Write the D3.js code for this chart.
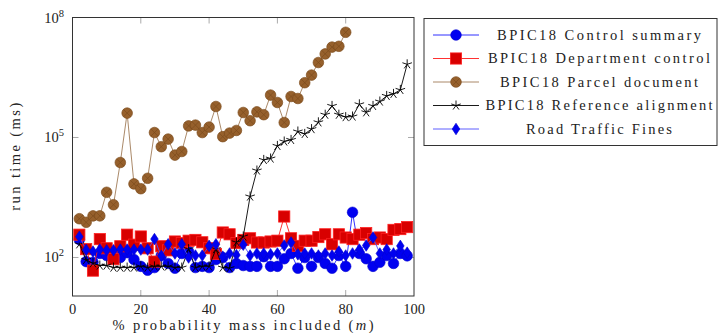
<!DOCTYPE html>
<html>
<head>
<meta charset="utf-8">
<script src="https://cdn.jsdelivr.net/npm/d3@7"></script>
<style>
  body { margin: 0; background: #fff; }
</style>
</head>
<body>
<div id="chart"></div>
<script>
// x values: % probability mass included
let mass = d3.range(2, 100, 2);          // 2..98
let massParcel = d3.range(2, 82, 2);     // 2..80

// run times in ms
let controlSummary = [282, 79, 76, 126, 112, 132, 100, 132, 89, 60, 48, 56, 112, 71, 54, 126, 141, 56, 60, 56,
    89, 100, 56, 71, 63, 60, 60, 105, 60, 60, 93, 126, 54, 100, 60, 100, 71, 54, 112, 60,
    1349, 126, 93, 60, 76, 112, 71, 126, 110];
let departmentControl = [372, 162, 47, 288, 170, 91, 191, 372, 209, 335, 170, 79, 191, 151, 251, 229, 263, 275, 240, 170,
    123, 422, 380, 229, 275, 302, 237, 237, 251, 263, 1059, 302, 195, 263, 263, 324, 380, 214, 380, 316,
    288, 372, 407, 288, 316, 288, 490, 513, 575];
let parcelDocument = [933, 759, 1096, 1100, 4266, 2089, 23700, 407000, 6918, 5248, 9550, 133000, 58900, 91200, 36300, 44700,
    195000, 204000, 133000, 182000, 596000, 105000, 129000, 150000, 422000, 263000, 437000, 372000, 1148000, 750000,
    237000, 1059000, 944000, 2344000, 3631000, 7500000, 12300000, 18200000, 19050000, 42660000];
let referenceAlignment = [214, 87, 72, 63, 63, 56, 56, 56, 56, 60, 56, 60, 60, 60, 56, 56, 162, 56, 60, 60,
    162, 56, 54, 240, 335, 3350, 14960, 27540, 29850, 61660, 79430, 87100, 141250, 123000, 162200, 239900, 371500, 616600,
    371500, 323600, 335000, 676000, 426600, 616600, 794300, 1096000, 1230000, 1549000, 6761000];
let roadTrafficFines = [331, 155, 141, 158, 151, 151, 158, 158, 158, 158, 158, 288, 110, 214, 126, 214, 100, 112, 112, 195,
    214, 105, 126, 115, 209, 112, 126, 126, 120, 126, 200, 237, 120, 126, 126, 112, 126, 112, 141, 112,
    126, 158, 200, 316, 126, 158, 126, 195, 132];

let xTicks = [0, 20, 40, 60, 80, 100];
let yTicks = [1e2, 1e5, 1e8];

let seriesNames = ['BPIC18 Control summary', 'BPIC18 Department control', 'BPIC18 Parcel document',
    'BPIC18 Reference alignment', 'Road Traffic Fines'];

let svgWidth = 719, svgHeight = 333;
let plot = { left: 72.5, right: 414, top: 17.5, bottom: 296 };

let svg = d3.select('#chart').append('svg')
    .attr('width', svgWidth)
    .attr('height', svgHeight)
    .attr('font-family', "'Liberation Serif', 'Times New Roman', 'DejaVu Serif', serif");

let x = d3.scaleLinear().domain([0, 100]).range([plot.left, plot.right]);
let y = d3.scaleLog().domain([10.9, 1e8]).range([plot.bottom, plot.top]);

// styles per series
let styles = [
    { line: '#1a1aff', fill: '#0000f0', stroke: '#0000d0', mark: 'circle', textLen: 204 },
    { line: '#ff1a1a', fill: '#d80000', stroke: '#ff2020', mark: 'square', textLen: 222 },
    { line: '#a07c58', fill: '#96602c', stroke: '#7d4c1c', mark: 'otimes', textLen: 198 },
    { line: '#000', fill: 'none', stroke: '#000', mark: 'star', textLen: 227 },
    { line: '#4d4dff', fill: '#0000f0', stroke: '#0000d0', mark: 'diamond', textLen: 146 }
];

let allSeries = [
    mass.map((m, i) => [m, controlSummary[i]]),
    mass.map((m, i) => [m, departmentControl[i]]),
    massParcel.map((m, i) => [m, parcelDocument[i]]),
    mass.map((m, i) => [m, referenceAlignment[i]]),
    mass.map((m, i) => [m, roadTrafficFines[i]])
];

// ticks (gray, inside, all four sides)
let tickG = svg.append('g').attr('stroke', '#aaa').attr('stroke-width', 1);
xTicks.slice(1, -1).forEach(t => {
    tickG.append('line').attr('x1', x(t)).attr('x2', x(t)).attr('y1', plot.bottom).attr('y2', plot.bottom - 6);
    tickG.append('line').attr('x1', x(t)).attr('x2', x(t)).attr('y1', plot.top).attr('y2', plot.top + 6);
});
yTicks.forEach(t => {
    tickG.append('line').attr('x1', plot.left).attr('x2', plot.left + 6).attr('y1', y(t)).attr('y2', y(t));
    tickG.append('line').attr('x1', plot.right).attr('x2', plot.right - 6).attr('y1', y(t)).attr('y2', y(t));
});

// marker drawing
function drawMark(g, type, s) {
    if (type === 'circle') {
        g.append('circle').attr('r', 5.3).attr('fill', s.fill).attr('stroke', s.stroke).attr('stroke-width', 0.6);
    } else if (type === 'square') {
        g.append('rect').attr('x', -5.6).attr('y', -5.6).attr('width', 11.2).attr('height', 11.2)
            .attr('fill', s.fill).attr('stroke', s.stroke).attr('stroke-width', 0.8);
    } else if (type === 'otimes') {
        g.append('circle').attr('r', 5.3).attr('fill', s.fill).attr('stroke', s.stroke).attr('stroke-width', 0.7);
        let d = 3.7;
        g.append('path').attr('d', `M${-d},${-d}L${d},${d}M${-d},${d}L${d},${-d}`)
            .attr('stroke', s.stroke).attr('stroke-width', 0.7);
    } else if (type === 'star') {
        let r = 5, p = '';
        for (let k = 0; k < 5; k++) {
            let a = -Math.PI / 2 + k * 2 * Math.PI / 5;
            p += `M0,0L${(r * Math.cos(a)).toFixed(2)},${(r * Math.sin(a)).toFixed(2)}`;
        }
        g.append('path').attr('d', p).attr('stroke', '#000').attr('stroke-width', 0.9).attr('fill', 'none');
    } else if (type === 'diamond') {
        g.append('path').attr('d', 'M0,-5.8L3.8,0L0,5.8L-3.8,0Z')
            .attr('fill', s.fill).attr('stroke', s.stroke).attr('stroke-width', 0.6);
    }
}

let line = d3.line().x(d => x(d[0])).y(d => y(d[1]));

allSeries.forEach((data, i) => {
    let s = styles[i];
    let g = svg.append('g');
    g.append('path').datum(data)
        .attr('d', line)
        .attr('fill', 'none')
        .attr('stroke', s.line)
        .attr('stroke-width', 0.9);
    g.selectAll('g.mark').data(data).enter().append('g')
        .attr('class', 'mark')
        .attr('transform', d => `translate(${x(d[0])},${y(d[1])})`)
        .each(function() { drawMark(d3.select(this), s.mark, s); });
});

// frame
svg.append('rect')
    .attr('x', plot.left).attr('y', plot.top)
    .attr('width', plot.right - plot.left).attr('height', plot.bottom - plot.top)
    .attr('fill', 'none').attr('stroke', '#333').attr('stroke-width', 1);

// x tick labels
svg.append('g').selectAll('text').data(xTicks).enter().append('text')
    .attr('x', d => x(d)).attr('y', 314)
    .attr('text-anchor', 'middle')
    .attr('font-size', 14.5)
    .attr('fill', '#222')
    .text(d => d);

// y tick labels 10^n
let yLab = svg.append('g').selectAll('text').data(yTicks).enter().append('text')
    .attr('x', 64).attr('y', d => y(d) + 5)
    .attr('text-anchor', 'end')
    .attr('font-size', 14.5)
    .attr('fill', '#222');
yLab.append('tspan').text('10');
yLab.append('tspan').attr('dy', -6).attr('font-size', 10.5).text(d => Math.round(Math.log10(d)));

// axis titles
svg.append('text')
    .attr('x', 243).attr('y', 330)
    .attr('text-anchor', 'middle')
    .attr('font-size', 14.5)
    .attr('fill', '#222')
    .attr('textLength', 261)
    .attr('lengthAdjust', 'spacing')
    .html('% probability mass included (<tspan font-style="italic">m</tspan>)');

svg.append('text')
    .attr('transform', `translate(20, ${(plot.top + plot.bottom) / 2}) rotate(-90)`)
    .attr('text-anchor', 'middle')
    .attr('font-size', 14.5)
    .attr('fill', '#222')
    .attr('textLength', 108)
    .attr('lengthAdjust', 'spacing')
    .text('run time (ms)');

// legend
let legend = svg.append('g');
legend.append('rect')
    .attr('x', 424).attr('y', 18.5).attr('width', 293).attr('height', 127)
    .attr('fill', '#fff').attr('stroke', '#333').attr('stroke-width', 1);
let legendY = [35, 58.5, 82, 105.5, 129];
seriesNames.forEach((name, i) => {
    let s = styles[i];
    let yy = legendY[i];
    legend.append('line').attr('x1', 433).attr('x2', 479).attr('y1', yy).attr('y2', yy)
        .attr('stroke', s.line).attr('stroke-width', 0.9);
    let mg = legend.append('g').attr('transform', `translate(456,${yy})`);
    drawMark(mg, s.mark, s);
    legend.append('text')
        .attr('x', 599).attr('y', yy + 4.5)
        .attr('text-anchor', 'middle')
        .attr('font-size', 14.5)
        .attr('fill', '#222')
        .attr('textLength', s.textLen)
        .attr('lengthAdjust', 'spacing')
        .text(name);
});
</script>
</body>
</html>
